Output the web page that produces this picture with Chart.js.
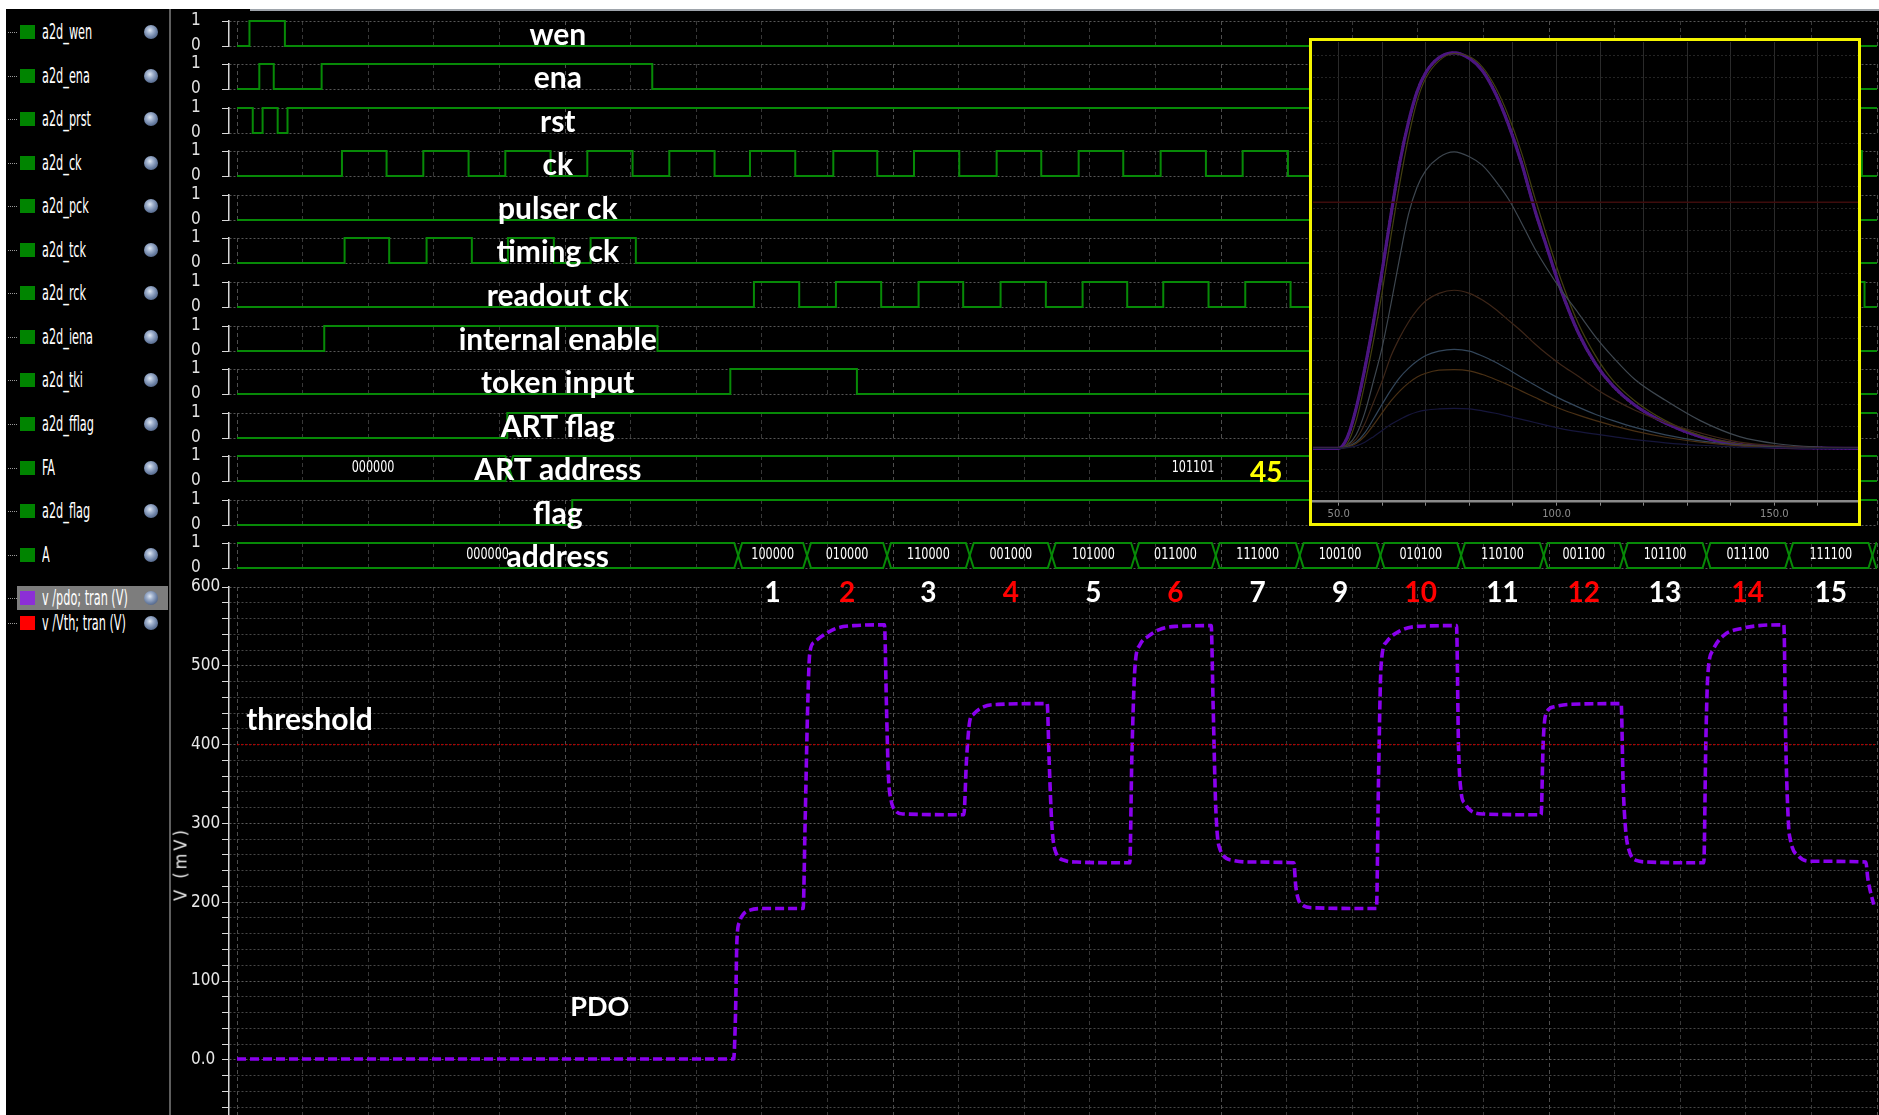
<!DOCTYPE html>
<html>
<head>
<meta charset="utf-8">
<title>PDO / ART address waveforms</title>
<script src="https://cdn.jsdelivr.net/npm/chart.js@4.4.1/dist/chart.umd.min.js"></script>
<style>
  html, body { margin: 0; padding: 0; background: #000; }
  body { position: relative; width: 1879px; height: 1115px; overflow: hidden;
         font-family: "Liberation Sans Narrow", "DejaVu Sans Condensed", "Liberation Sans", sans-serif; }
  #topbar { position: absolute; left: 0; top: 0; width: 1879px; height: 9px; background: #fff; }
  #leftbar { position: absolute; left: 0; top: 0; width: 6px; height: 1115px; background: #fff; }
  #topline { position: absolute; left: 250px; top: 9px; width: 1629px; height: 2px; background: #9ea4ab; }
  #sep { position: absolute; left: 169px; top: 9px; width: 2px; height: 1106px; background: #5e5e5e; }
  .item { position: absolute; left: 7px; width: 162px; height: 24px; }
  .item .hl { position: absolute; left: 10px; top: 0; width: 151px; height: 24px; background: #7d7d7d; }
  .item .dots { position: absolute; left: 1px; top: 12px; width: 9px; border-top: 1px dotted #9a9a9a; }
  .item .sq { position: absolute; left: 13px; top: 5px; width: 15px; height: 14px; }
  .item .lbl { position: absolute; left: 35px; top: 0; height: 24px; line-height: 24px; font-size: 22px;
               color: #fff; white-space: nowrap; transform: scaleX(0.57); transform-origin: 0 50%; }
  .item .eye { position: absolute; left: 137px; top: 5px; width: 14px; height: 14px; border-radius: 50%;
               background: radial-gradient(circle at 42% 38%, #dfe7f2 0, #9fb0cc 28%, #6a7fa3 58%, #3b4a68 100%); }
  .row { position: absolute; left: 170px; width: 1709px; height: 48px; }
  #analog { position: absolute; left: 170px; top: 570px; width: 1709px; height: 545px; }
  #inset { position: absolute; left: 1309px; top: 38px; width: 546px; height: 482px;
           border: 3px solid #f4f400; background: #000; z-index: 5; }
  #ytitle { position: absolute; left: 180px; top: 864px; transform: translate(-50%, -50%) rotate(-90deg);
            color: #e6e6e6; font-size: 18px; letter-spacing: 3px; white-space: nowrap; }
</style>
</head>
<body>
<div id="topbar"></div>
<div id="leftbar"></div>
<div id="topline"></div>
<div id="sep"></div>
<div id="analog"><canvas id="analogCanvas"></canvas></div>
<div id="inset"><canvas id="insetCanvas"></canvas></div>
<div id="ytitle">V (mV)</div>

<script>
const NARROW = '"Liberation Sans Narrow", "DejaVu Sans Condensed", "Liberation Sans", sans-serif';
const TITLE_FONT = '700 30px Lato, "Open Sans", sans-serif';
const NUM_FONT = '700 28px Lato, "Open Sans", sans-serif';
const BUS_FONT = '15px ' + NARROW;
const GREEN = '#078a07';

// time axis: one unit = one grid division
const X_MIN = -0.122;
const X_MAX = 25;
const gridTicks = [0, 1, 2, 3, 4, 5, 6, 7, 8, 9, 10, 11, 12, 13, 14, 15, 16, 17, 18, 19, 20, 21, 22, 23, 24, 25];

// waveform list (left panel)
const listNames = ['a2d_wen', 'a2d_ena', 'a2d_prst', 'a2d_ck', 'a2d_pck', 'a2d_tck', 'a2d_rck',
                   'a2d_iena', 'a2d_tki', 'a2d_fflag', 'FA', 'a2d_flag', 'A'];
const analogNames = ['v /pdo; tran (V)', 'v /Vth; tran (V)'];
const analogColors = ['#8c2fd6', '#ff0000'];

// digital rows
const rowTitles = ['wen', 'ena', 'rst', 'ck', 'pulser ck', 'timing ck', 'readout ck',
                   'internal enable', 'token input', 'ART flag', 'ART address', 'flag', 'address'];
const bitTickText = ['0', '1'];

const wenEdges = [0.19, 0.73];
const enaEdges = [0.34, 0.56, 1.29, 6.33];
const rstEdges = [0.24, 0.39, 0.62, 0.77];
const ckEdges = [1.60, 2.28, 2.84, 3.53, 4.09, 4.78, 5.34, 6.03, 6.59, 7.28, 7.82, 8.51, 9.09, 9.76,
                 10.32, 11.01, 11.58, 12.26, 12.83, 13.51, 14.08, 14.77, 15.33, 16.02, 16.58, 17.27,
                 17.83, 18.52, 19.08, 19.77, 20.33, 21.02, 21.58, 22.27, 22.83, 23.52, 24.08, 24.77];
const pckEdges = [];
const tckEdges = [1.64, 2.32, 2.89, 3.58, 4.13, 4.83, 5.39, 6.08];
const rckEdges = [7.88, 8.57, 9.13, 9.82, 10.39, 11.07, 11.64, 12.33, 12.89, 13.57, 14.12, 14.81,
                  15.37, 16.06, 16.62, 17.31, 17.87, 18.56, 19.12, 19.81, 20.37, 21.06, 21.62, 22.31,
                  22.87, 23.56, 24.12, 24.81];
const ienaEdges = [1.33, 6.41];
const tkiEdges = [7.52, 9.45];
const artFlagEdges = [4.12];
const flagEdges = [5.11];
const startLevels = [0, 0, 1, 0, 0, 0, 0, 0, 0, 0, 0, 0, 0];

const artAddrEdges = [4.15];
const artAddrValues = ['000000', '101101'];
const artAddrDecimal = '45';

const addrEdges = [7.64, 8.69, 9.91, 11.17, 12.42, 13.69, 14.92, 16.2, 17.43, 18.66, 19.92,
                   21.14, 22.4, 23.66, 24.93];
const addrValues = ['000000', '100000', '010000', '110000', '001000', '101000', '011000', '111000',
                    '100100', '010100', '110100', '001100', '101100', '011100', '111100', ''];
const slotNumbers = ['', '1', '2', '3', '4', '5', '6', '7', '9', '10', '11', '12', '13', '14', '15', ''];

// analog PDO trace (mV)
const pdoT = [0, 7.57, 7.60, 7.62, 7.66, 7.72, 7.82, 8.0, 8.63,
  8.66, 8.70, 8.73, 8.80, 8.98, 9.15, 9.40, 9.87,
  9.90, 9.93, 9.97, 10.04, 10.15, 11.08,
  11.12, 11.17, 11.22, 11.38, 11.6, 12.35,
  12.38, 12.42, 12.47, 12.62, 12.8, 13.61,
  13.64, 13.69, 13.76, 13.9, 14.06, 14.3, 14.85,
  14.88, 14.92, 14.99, 15.19, 15.4, 16.11,
  16.14, 16.23, 16.4, 17.37,
  17.40, 17.44, 17.52, 17.72, 18.0, 18.59,
  18.62, 18.66, 18.72, 18.81, 19.0, 19.88,
  19.91, 19.95, 20.08, 20.3, 21.1,
  21.13, 21.17, 21.22, 21.33, 21.5, 22.36,
  22.39, 22.42, 22.5, 22.67, 22.97, 23.2, 23.58,
  23.61, 23.65, 23.68, 23.81, 24.0, 24.83,
  24.86, 24.95];
const pdoMv = [1, 1, 60, 150, 175, 185, 190, 192, 192,
  300, 450, 515, 530, 541, 548, 551, 552,
  450, 360, 330, 316, 312, 311,
  380, 430, 438, 448, 451, 452,
  380, 300, 266, 253, 251, 250,
  380, 500, 526, 538, 546, 550, 551,
  450, 320, 266, 253, 251, 250,
  220, 197, 193, 192,
  350, 500, 530, 544, 550, 551,
  400, 340, 325, 316, 312, 311,
  400, 438, 448, 451, 452,
  350, 290, 266, 253, 251, 250,
  400, 487, 520, 539, 548, 551, 552,
  400, 300, 279, 258, 252, 251,
  230, 197];
const vthMv = 400;
const mvTicks = [-60, -40, -20, 0, 20, 40, 60, 80, 100, 120, 140, 160, 180, 200, 220, 240, 260, 280,
                 300, 320, 340, 360, 380, 400, 420, 440, 460, 480, 500, 520, 540, 560, 580, 600];
const mvLabelVals = [0, 100, 200, 300, 400, 500, 600];
const mvLabelText = ['0.0', '100', '200', '300', '400', '500', '600'];

// inset: shaper pulses (ns, mV)
const insetT = [44, 50, 52, 54, 56, 58, 60, 62, 64, 66, 68, 70, 73, 76.5, 80, 83, 86, 89, 92, 95,
                98, 101, 105, 109, 113, 118, 125, 133, 142, 151, 160, 169.2];
const insetPdo = [0, 0, 18, 65, 130, 206, 290, 380, 464, 530, 580, 611, 635, 643, 634, 614, 577, 526, 463, 388,
                  322, 258, 188, 137, 101, 70, 41, 19, 6, 2, 0.5, 0];
const insetOlive = [0, 0, 8, 45, 105, 175, 255, 345, 430, 505, 565, 602, 630, 642, 637, 620, 587, 540, 480, 408,
                    340, 275, 203, 150, 110, 77, 45, 21, 7, 2, 0.5, 0];
const insetGrey = [0, 0, 5, 22, 58, 110, 165, 235, 310, 380, 425, 452, 473, 482, 474, 460, 435, 405, 366, 325,
                   290, 258, 220, 181, 148, 112, 78, 45, 19, 7, 2, 0];
const insetBrown = [0, 0, 4, 15, 40, 75, 110, 150, 180, 205, 225, 240, 252, 257, 252, 241, 226, 208, 190, 170,
                    152, 136, 117, 97, 80, 62, 42, 25, 10, 4, 1, 0];
const insetSlate = [0, 0, 3, 10, 25, 48, 72, 95, 115, 130, 142, 151, 158, 161, 158, 150, 140, 128, 115, 103,
                    91, 80, 67, 55, 45, 34, 22, 12, 5, 2, 0, 0];
const insetOrange = [0, 0, 2, 8, 20, 38, 58, 77, 93, 106, 116, 122, 127, 128, 126, 120, 112, 103, 93, 83,
                     73, 64, 54, 45, 37, 28, 18, 10, 4, 1, 0, 0];
const insetBlue = [0, 0, 1, 4, 10, 19, 29, 39, 47, 54, 59, 62, 64, 65, 64, 61, 57, 52, 47, 42,
                   37, 32, 27, 23, 19, 14, 9, 5, 2, 1, 0, 0];
const insetTicks = [50, 60, 70, 80, 90, 100, 110, 120, 130, 140, 150, 160];
const insetLabelVals = [50, 100, 150];
const insetLabelText = ['50.0', '100.0', '150.0'];

// layout
const ROW_Y0 = 20.7;
const ROW_PITCH = 43.55;
const TITLE_X = 4.89;
const SQUEEZE = 0.83;

Chart.defaults.font.family = NARROW;

// ---------- left panel ----------
function addItem(name, y, color, selected) {
  const it = document.createElement('div');
  it.className = 'item';
  it.style.top = Math.round(y - 12) + 'px';
  it.innerHTML = (selected ? '<div class="hl"></div>' : '') +
    '<div class="dots"></div><div class="sq" style="background:' + color + '"></div>' +
    '<div class="lbl"></div><div class="eye"></div>';
  it.querySelector('.lbl').textContent = name;
  document.body.appendChild(it);
}
listNames.forEach((n, i) => addItem(n, 32 + ROW_PITCH * i, '#008400', false));
analogNames.forEach((n, i) => addItem(n, 598 + 25 * i, analogColors[i], i === 0));

// ---------- helpers ----------
function bitData(start, edges) {
  let v = start;
  const pts = [{ x: 0, y: v }];
  edges.forEach(t => {
    pts.push({ x: t, y: v });
    v = 1 - v;
    pts.push({ x: t, y: v });
  });
  pts.push({ x: X_MAX, y: v });
  return pts;
}

function busData(edges) {
  const d = 0.06;
  const a = [{ x: 0, y: 1 }], b = [{ x: 0, y: 0 }];
  let up = true;
  edges.forEach(t => {
    a.push({ x: t - d, y: up ? 1 : 0 }, { x: t + d, y: up ? 0 : 1 });
    b.push({ x: t - d, y: up ? 0 : 1 }, { x: t + d, y: up ? 1 : 0 });
    up = !up;
  });
  a.push({ x: X_MAX, y: up ? 1 : 0 });
  b.push({ x: X_MAX, y: up ? 0 : 1 });
  return [a, b];
}

function busCenters(edges) {
  const b = [0].concat(edges, [X_MAX]);
  const c = [];
  for (let k = 0; k < b.length - 1; k++) c.push((b[k] + b[k + 1]) / 2);
  return c;
}

function textLayer(items) {
  return {
    id: 'textLayer',
    afterDatasetsDraw(chart) {
      const { ctx, scales } = chart;
      items.forEach(it => {
        ctx.save();
        ctx.font = it.font;
        ctx.fillStyle = it.color;
        ctx.textAlign = it.align || 'center';
        ctx.textBaseline = it.baseline || 'alphabetic';
        ctx.translate(scales.x.getPixelForValue(it.x), scales.y.getPixelForValue(it.y));
        if (it.squeeze) ctx.scale(it.squeeze, 1);
        ctx.fillText(it.text, 0, 0);
        ctx.restore();
      });
    }
  };
}

// keep the plot area where the layout padding puts it
function fixYAxis(s) {
  s.width = 38;
  s.paddingTop = 0;
  s.paddingBottom = 0;
}

function timeScale() {
  return {
    type: 'linear', min: X_MIN, max: X_MAX,
    afterBuildTicks: s => { s.ticks = gridTicks.map(v => ({ value: v })); },
    ticks: { display: false },
    grid: { color: c => (c.tick && c.tick.value % 5 === 0) ? '#4e4e4e' : '#383838', lineWidth: 1, drawTicks: false },
    border: { display: false, dash: [4, 3] }
  };
}

function lineSet(data, color) {
  return { data, borderColor: color, borderWidth: 2, pointRadius: 0, tension: 0, clip: false };
}

// ---------- digital rows ----------
function makeRow(i, datasets, texts) {
  const box = document.createElement('div');
  box.className = 'row';
  box.style.top = (Math.round(ROW_Y0 + ROW_PITCH * i) - 12) + 'px';
  const cv = document.createElement('canvas');
  box.appendChild(cv);
  document.body.appendChild(box);
  new Chart(cv, {
    type: 'line',
    data: { datasets },
    options: {
      animation: false, responsive: true, maintainAspectRatio: false, events: [],
      layout: { padding: { left: 21, right: 2, top: 12, bottom: 11 } },
      plugins: { legend: { display: false }, tooltip: { enabled: false } },
      scales: {
        x: timeScale(),
        y: {
          min: 0, max: 1,
          afterBuildTicks: s => { s.ticks = [{ value: 0 }, { value: 1 }]; },
          afterFit: fixYAxis,
          ticks: { crossAlign: 'far', color: '#e2e2e2', font: { family: NARROW, size: 17 }, autoSkip: false,
                   padding: 0, callback: v => bitTickText[v] },
          grid: { color: '#565656', tickColor: '#d8d8d8', tickLength: 7, lineWidth: 1 },
          border: { color: '#d8d8d8', width: 1.5, dash: [2, 2] }
        }
      }
    },
    plugins: [textLayer(texts)]
  });
}

const bitEdges = [wenEdges, enaEdges, rstEdges, ckEdges, pckEdges, tckEdges, rckEdges,
                  ienaEdges, tkiEdges, artFlagEdges, null, flagEdges, null];

rowTitles.forEach((title, i) => {
  const texts = [{ text: title, x: TITLE_X, y: 0.05, font: TITLE_FONT, color: '#ffffff' }];
  let sets;
  if (i === 10) {
    sets = busData(artAddrEdges).map(d => lineSet(d, GREEN));
    busCenters(artAddrEdges).forEach((c, k) => {
      texts.unshift({ text: artAddrValues[k], x: c, y: 0.5, font: BUS_FONT, color: '#ffffff',
                      baseline: 'middle', squeeze: SQUEEZE });
    });
    texts.push({ text: artAddrDecimal, x: 15.69, y: -0.02, font: NUM_FONT, color: '#ffff00' });
  } else if (i === 12) {
    sets = busData(addrEdges).map(d => lineSet(d, GREEN));
    busCenters(addrEdges).forEach((c, k) => {
      texts.unshift({ text: addrValues[k], x: c, y: 0.5, font: BUS_FONT, color: '#ffffff',
                      baseline: 'middle', squeeze: SQUEEZE });
    });
  } else {
    sets = [lineSet(bitData(startLevels[i], bitEdges[i]), GREEN)];
  }
  makeRow(i, sets, texts);
});

// ---------- analog panel ----------
const slotCenters = busCenters(addrEdges);
const analogTexts = [
  { text: 'threshold', x: 0.14, y: 418, font: TITLE_FONT, color: '#ffffff', align: 'left' },
  { text: 'PDO', x: 5.53, y: 55, font: '700 27px Lato, sans-serif', color: '#ffffff' }
];
slotNumbers.forEach((n, k) => {
  if (!n) return;
  analogTexts.push({ text: n, x: slotCenters[k], y: 581, font: NUM_FONT,
                     color: Number(n) % 2 === 0 ? '#ff0000' : '#ffffff' });
});

new Chart(document.getElementById('analogCanvas'), {
  type: 'line',
  data: {
    datasets: [
      { data: [{ x: 0, y: vthMv }, { x: X_MAX, y: vthMv }], borderColor: '#b00000', borderWidth: 1.3,
        borderDash: [2, 2], pointRadius: 0, tension: 0 },
      { data: pdoT.map((t, k) => ({ x: t, y: pdoMv[k] })), borderColor: '#8a00ee', borderWidth: 3.6,
        borderDash: [9, 4], pointRadius: 0, cubicInterpolationMode: 'monotone', clip: false }
    ]
  },
  options: {
    animation: false, responsive: true, maintainAspectRatio: false, events: [],
    layout: { padding: { left: 21, right: 2, top: 17, bottom: 0 } },
    plugins: { legend: { display: false }, tooltip: { enabled: false } },
    scales: {
      x: timeScale(),
      y: {
        min: -70, max: 600,
        afterBuildTicks: s => { s.ticks = mvTicks.map(v => ({ value: v })); },
        afterFit: fixYAxis,
        ticks: { crossAlign: 'far', color: '#e8e8e8', font: { family: NARROW, size: 17 }, autoSkip: false,
                 padding: 0,
                 callback: v => { const k = mvLabelVals.indexOf(v); return k < 0 ? '' : mvLabelText[k]; } },
        grid: { color: c => (c.tick && c.tick.value % 100 === 0) ? '#5c5c5c' : '#464646',
                tickColor: '#d8d8d8', tickLength: 7, lineWidth: 1 },
        border: { color: '#d8d8d8', width: 1.5, dash: [2, 2] }
      }
    }
  },
  plugins: [textLayer(analogTexts)]
});

// ---------- inset ----------
function insetSet(values, color, width, dash) {
  return { data: insetT.map((t, k) => ({ x: t, y: values[k] })), borderColor: color, borderWidth: width,
           borderDash: dash || [], pointRadius: 0, cubicInterpolationMode: 'monotone' };
}

new Chart(document.getElementById('insetCanvas'), {
  type: 'line',
  data: {
    datasets: [
      { data: [{ x: 44.1, y: vthMv }, { x: 169.2, y: vthMv }], borderColor: '#3e0c0c', borderWidth: 1.5,
        pointRadius: 0, tension: 0 },
      insetSet(insetBlue, '#16163c', 1.2),
      insetSet(insetOrange, '#4a3014', 1.2),
      insetSet(insetSlate, '#33465a', 1.2),
      insetSet(insetBrown, '#3e2618', 1.2),
      insetSet(insetGrey, '#3e4750', 1.2),
      insetSet(insetOlive, '#433f10', 1.2),
      insetSet(insetPdo, '#4b1580', 3.2),
      insetSet(insetPdo, '#a040ff', 2.4, [2, 2])
    ]
  },
  options: {
    animation: false, responsive: true, maintainAspectRatio: false, events: [],
    layout: { padding: { left: 1, right: 0, top: 1, bottom: 0 } },
    plugins: { legend: { display: false }, tooltip: { enabled: false } },
    scales: {
      x: {
        type: 'linear', min: 44.1, max: 169.2,
        afterBuildTicks: s => { s.ticks = insetTicks.map(v => ({ value: v })); },
        afterFit: s => { s.height = 21.3; s.paddingLeft = 0; s.paddingRight = 0; },
        ticks: { color: '#8c8c8c', font: { family: '"DejaVu Sans", sans-serif', size: 10 }, padding: 3,
                 maxRotation: 0, autoSkip: false,
                 callback: v => { const k = insetLabelVals.indexOf(v); return k < 0 ? '' : insetLabelText[k]; } },
        grid: { color: '#2a2a2a', tickColor: '#8a8a8a', tickLength: 4, lineWidth: 1 },
        border: { color: '#8a8a8a', width: 2.5 }
      },
      y: {
        min: -86.8, max: 660.7,
        afterBuildTicks: s => { const a = []; for (let v = -70; v <= 650; v += 35.4) a.push({ value: v }); s.ticks = a; },
        afterFit: s => { s.paddingTop = 0; s.paddingBottom = 0; },
        ticks: { display: false },
        grid: { color: '#242424', drawTicks: false, lineWidth: 1 },
        border: { display: false, dash: [2, 2] }
      }
    }
  }
});
</script>
</body>
</html>
